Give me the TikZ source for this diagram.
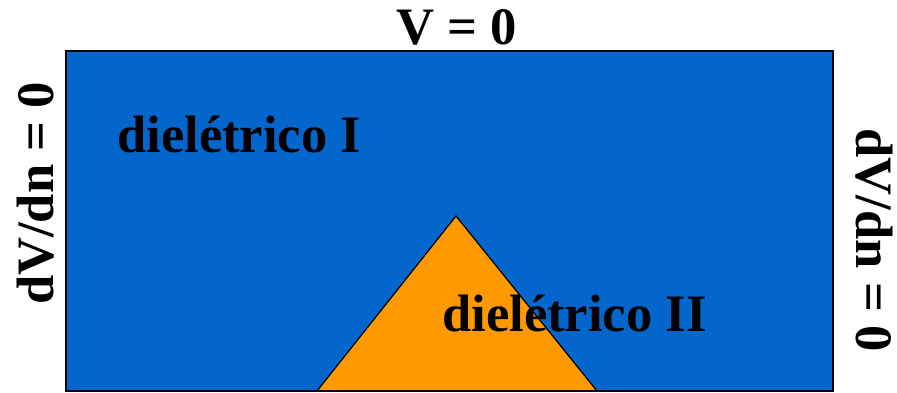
\documentclass[tikz,border=0pt]{standalone}
\usepackage{fontspec}
\setmainfont{Liberation Serif}
\definecolor{dielblue}{HTML}{0366CC}
\definecolor{dielorange}{HTML}{FF9900}
\begin{document}
\begin{tikzpicture}[x=1pt,y=-1pt,
  lbl/.style={inner sep=0pt, font=\fontsize{52.6}{60}\selectfont\bfseries}]
\useasboundingbox (0,0) rectangle (897,393);
\fill[white] (0,0) rectangle (897,393);
\coordinate (r1) at (66,51);
\coordinate (r2) at (833,391);
\filldraw[fill=dielblue, draw=black, line width=1.2pt] (r1) rectangle (r2);
\coordinate (apex) at (456,216);
\coordinate (bl) at (317,391);
\coordinate (br) at (597,391);
\filldraw[fill=dielorange, draw=black, line width=1.2pt] (bl) -- (apex) -- (br);
\draw[black, line width=1.2pt] (66,391) -- (833,391);
\node[lbl, anchor=base] (top) at (457,45) {V = 0};
\node[lbl, anchor=base west] (d1) at (117,153) {dielétrico I};
\node[lbl, anchor=base west] (d2) at (442,331) {dielétrico II};
\node[lbl, anchor=base, rotate=90] (left) at (53,193.5) {dV/dn = 0};
\node[lbl, anchor=base, rotate=-90] (right) at (856,240) {dV/dn = 0};
\end{tikzpicture}
\end{document}
